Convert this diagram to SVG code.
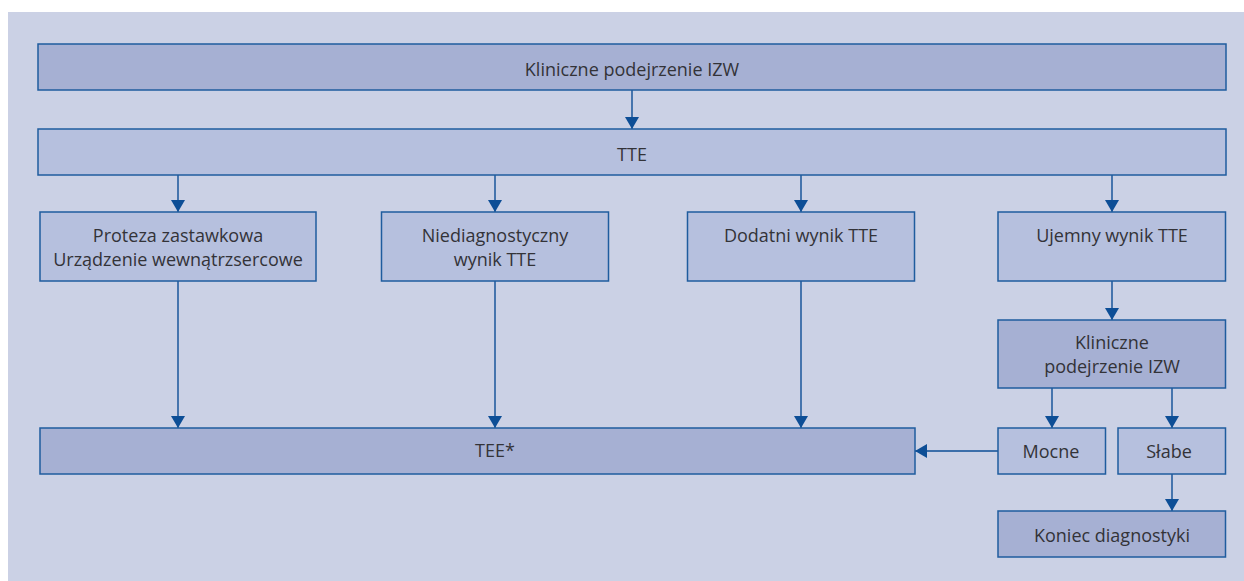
<svg xmlns="http://www.w3.org/2000/svg" width="1244" height="581" viewBox="0 0 1244 581">
  <style>
    .panel { fill: #CBD1E5; }
    .box { stroke: #1F5C9E; stroke-width: 1.5; }
    .dark { fill: #A6B0D3; }
    .light { fill: #B6C0DE; }
    .label { font-family: "Open Sans", "Liberation Sans", sans-serif; font-size: 18px; fill: #333338; text-anchor: middle; }
    .edge { stroke: #0D4E96; stroke-width: 1.4; fill: none; marker-end: url(#head); }
  </style>
  <defs>
    <marker id="head" viewBox="0 0 12 14" refX="12" refY="7" markerWidth="12" markerHeight="14" markerUnits="userSpaceOnUse" orient="auto">
      <path d="M0,0 L12,7 L0,14 z" fill="#0D4E96"/>
    </marker>
  </defs>

  <!-- background panel -->
  <rect class="panel" x="8" y="12" width="1236" height="569"/>

  <!-- connectors -->
  <g id="connectors">
    <line class="edge" x1="632" y1="90" x2="632" y2="129"/>
    <line class="edge" x1="178" y1="175" x2="178" y2="212"/>
    <line class="edge" x1="495" y1="175" x2="495" y2="212"/>
    <line class="edge" x1="801" y1="175" x2="801" y2="212"/>
    <line class="edge" x1="1112" y1="175" x2="1112" y2="212"/>
    <line class="edge" x1="178" y1="281" x2="178" y2="428"/>
    <line class="edge" x1="495" y1="281" x2="495" y2="428"/>
    <line class="edge" x1="801" y1="281" x2="801" y2="428"/>
    <line class="edge" x1="1112" y1="281" x2="1112" y2="320"/>
    <line class="edge" x1="1052" y1="388" x2="1052" y2="428"/>
    <line class="edge" x1="1172" y1="388" x2="1172" y2="428"/>
    <line class="edge" x1="998" y1="451" x2="915" y2="451"/>
    <line class="edge" x1="1172" y1="474" x2="1172" y2="511"/>
  </g>

  <g id="suspicion">
    <rect class="box dark" x="38" y="44" width="1188" height="46"/>
    <text class="label" x="632" y="75.5">Kliniczne podejrzenie IZW</text>
  </g>

  <g id="tte">
    <rect class="box light" x="38" y="129" width="1188" height="46"/>
    <text class="label" x="632" y="161">TTE</text>
  </g>

  <g id="prosthesis">
    <rect class="box light" x="40" y="212" width="276" height="69"/>
    <text class="label" x="178" y="242">Proteza zastawkowa</text>
    <text class="label" x="178" y="265.5">Urządzenie wewnątrzsercowe</text>
  </g>

  <g id="nondiagnostic">
    <rect class="box light" x="381.5" y="212" width="227" height="69"/>
    <text class="label" x="495" y="242">Niediagnostyczny</text>
    <text class="label" x="495" y="265.5">wynik TTE</text>
  </g>

  <g id="positive">
    <rect class="box light" x="687.5" y="212" width="227" height="69"/>
    <text class="label" x="801" y="242">Dodatni wynik TTE</text>
  </g>

  <g id="negative">
    <rect class="box light" x="998" y="212" width="227.5" height="69"/>
    <text class="label" x="1112" y="242">Ujemny wynik TTE</text>
  </g>

  <g id="suspicion-2">
    <rect class="box dark" x="998" y="320" width="227.5" height="68"/>
    <text class="label" x="1112" y="349">Kliniczne</text>
    <text class="label" x="1112" y="373">podejrzenie IZW</text>
  </g>

  <g id="tee">
    <rect class="box dark" x="40" y="428" width="875" height="46"/>
    <text class="label" x="495" y="457">TEE*</text>
  </g>

  <g id="strong">
    <rect class="box light" x="998" y="428" width="107.5" height="46"/>
    <text class="label" x="1051" y="458">Mocne</text>
  </g>

  <g id="weak">
    <rect class="box light" x="1118" y="428" width="107.5" height="46"/>
    <text class="label" x="1169" y="458">Słabe</text>
  </g>

  <g id="end">
    <rect class="box dark" x="998" y="511" width="227.5" height="46"/>
    <text class="label" x="1112" y="541.5">Koniec diagnostyki</text>
  </g>
</svg>
